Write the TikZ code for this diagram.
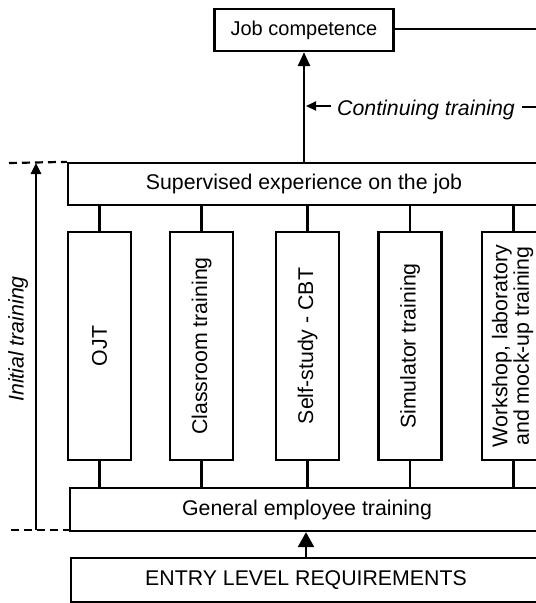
\documentclass[tikz,border=0pt]{standalone}
\usepackage{fontspec}
\setmainfont{Liberation Sans}
\usetikzlibrary{arrows.meta}
\begin{document}
\begin{tikzpicture}[x=1pt,y=-1pt,
  box/.style={draw, line width=2.3pt, inner sep=0pt, minimum height=42pt, font=\fontsize{21.3}{24}\selectfont},
  vbox/.style={draw, line width=2.3pt, inner sep=0pt, minimum width=63pt, minimum height=228pt, font=\fontsize{21.3}{20.5}\selectfont},
  conn/.style={line width=2.2pt},
  shaft/.style={line width=2.6pt},
  lbl/.style={inner sep=0pt, font=\fontsize{21.3}{24}\selectfont\itshape},
  dsh/.style={line width=2.2pt, dash pattern=on 8pt off 5pt}]
\useasboundingbox (0,0) rectangle (536,603);
\clip (0,0) rectangle (536,603);
% boxes
\node[box, minimum width=179pt, font=\fontsize{20}{24}\selectfont] (job) at (304,30) {Job competence};
\node[box, minimum width=472pt] (sup) at (304,184) {Supervised experience on the job};
\node[vbox] (ojt) at (99.5,346) {\rotatebox{90}{OJT}};
\node[vbox] (cls) at (201.5,346) {\rotatebox{90}{Classroom training}};
\node[vbox] (cbt) at (307.5,346) {\rotatebox{90}{Self-study - CBT}};
\node[vbox] (sim) at (410,346) {\rotatebox{90}{Simulator training}};
\node[vbox] (wsh) at (513.5,346) {\rotatebox{90}{\begin{tabular}{@{}c@{}}Workshop, laboratory\\and mock-up training\end{tabular}}};
\node[box, minimum width=474pt, minimum height=43pt] (gen) at (307,509.5) {General employee training};
\node[box, minimum width=470pt, minimum height=44pt] (ent) at (306,580) {ENTRY LEVEL REQUIREMENTS};
% connectors
\foreach \n in {ojt,cls,cbt,sim,wsh}{
  \draw[conn] (sup.south -| \n.north) -- (\n.north);
  \draw[conn] (\n.south) -- (\n.south |- gen.north);
}
% job competence arrow
\draw[shaft, -{Triangle[length=14pt,width=12pt]}] (sup.north -| job.south) -- (job.south);
\coordinate (jr) at (540,29);
\draw[conn] (job.east |- jr) -- (jr);
% continuing training
\node[lbl, anchor=base west] (cont) at (337,115) {Continuing training};
\coordinate (ca) at (331,106);
\coordinate (ct) at (306,106);
\draw[conn, -{Triangle[length=10pt,width=9pt]}] (ca) -- (ct);
\coordinate (cr) at (540,107);
\draw[conn] (522,107) -- (cr);
% initial training
\coordinate (itb) at (36,530);
\coordinate (itt) at (36,163);
\draw[shaft, -{Triangle[length=11pt,width=10pt]}] (itb) -- (itt);
\node[lbl, rotate=90] (init) at (18,339) {Initial training};
\coordinate (dtl) at (9,163);
\coordinate (dbl) at (11,530);
\draw[dsh] (dtl) -- (sup.north west);
\draw[dsh] (dbl) -- (dbl -| gen.west);
% entry arrow
\draw[shaft, -{Triangle[length=15pt,width=16pt]}] (ent.north) -- (ent.north |- gen.south);
\end{tikzpicture}
\end{document}
